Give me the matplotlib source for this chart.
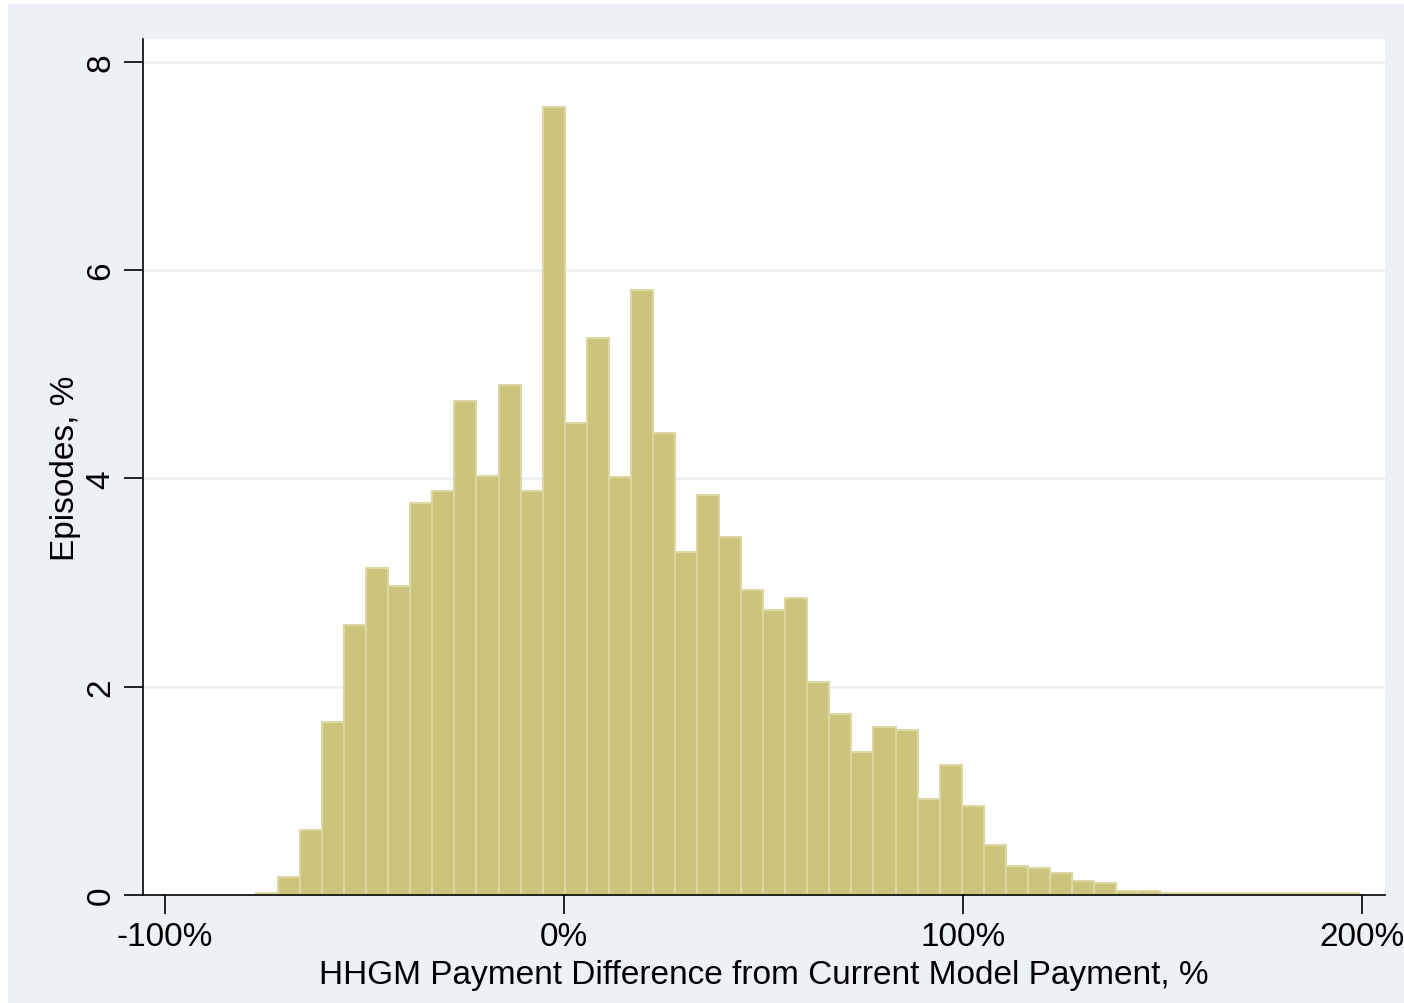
import matplotlib.pyplot as plt
from matplotlib.patches import Rectangle

# histogram: 50 bins from -77.2% to 199.2%
bin_start = -77.2
bin_width = 5.528
heights = [0.02, 0.17, 0.62, 1.66, 2.59, 3.14, 2.97, 3.76, 3.88, 4.74,
           4.02, 4.90, 3.88, 7.57, 4.53, 5.35, 4.01, 5.81, 4.44, 3.29,
           3.84, 3.44, 2.93, 2.74, 2.85, 2.05, 1.74, 1.37, 1.61, 1.58,
           0.92, 1.25, 0.85, 0.48, 0.28, 0.26, 0.21, 0.13, 0.12, 0.04,
           0.04, 0.02, 0.02, 0.02, 0.02, 0.02, 0.02, 0.02, 0.02, 0.02]
xticks = [-100, 0, 100, 200]
xtick_labels = ["-100%", "0%", "100%", "200%"]
yticks = [0, 2, 4, 6, 8]

plt.rcParams['font.family'] = ['Liberation Sans', 'DejaVu Sans']

W, H = 1404, 1004
bg = '#EDF1F6'
fig = plt.figure(figsize=(W / 100, H / 100), dpi=100, facecolor='white')
fig.patches.append(Rectangle((8 / W, 0), 1 - 8 / W, 1 - 5 / H,
                             transform=fig.transFigure, facecolor=bg,
                             edgecolor='none', zorder=-10))

ax = fig.add_axes([143 / W, (H - 896) / H, (1385 - 143) / W, (896 - 40) / H])
ax.set_facecolor('white')

lefts = [bin_start + i * bin_width for i in range(len(heights))]
ax.bar(lefts, heights, width=bin_width, align='edge', color='#CCC47A',
       edgecolor='#DCD8A4', linewidth=1.5, zorder=2)

ax.set_xlim(-105.5, 205.8)
ax.set_ylim(0, 8.22)
ax.set_yticks(yticks)
ax.set_yticklabels([str(v) for v in yticks], rotation=90, va='center')
ax.set_xticks(xticks)
ax.set_xticklabels(xtick_labels)
ax.yaxis.grid(True, color=bg, linewidth=2, zorder=0)
ax.set_axisbelow(True)

for s in ['top', 'right']:
    ax.spines[s].set_visible(False)
for s in ['left', 'bottom']:
    ax.spines[s].set_color('black')
    ax.spines[s].set_linewidth(1.2)

ax.tick_params(axis='both', labelsize=24, length=14, width=1.2, direction='out', pad=5)
ax.set_xlabel("HHGM Payment Difference from Current Model Payment, %", fontsize=24, labelpad=5)
ax.set_ylabel("Episodes, %", fontsize=24, labelpad=3)

fig.savefig('out.png', dpi=100, facecolor=fig.get_facecolor())
